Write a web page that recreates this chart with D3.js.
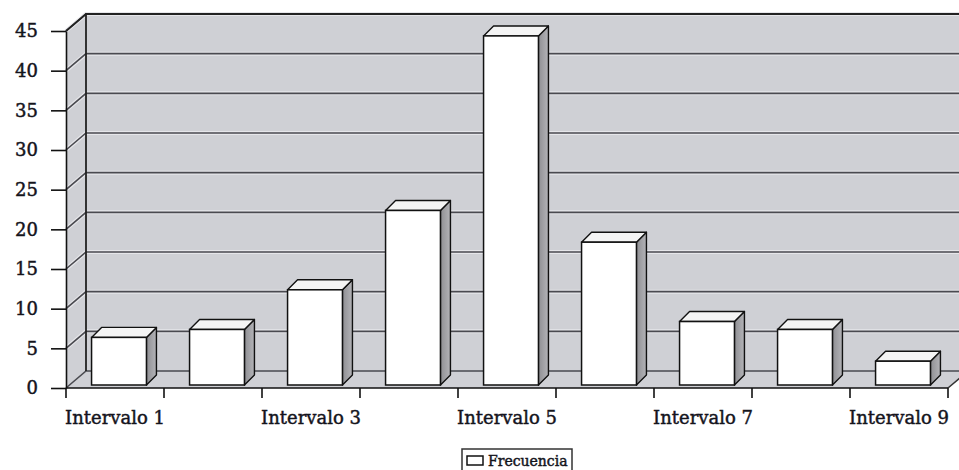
<!DOCTYPE html>
<html><head><meta charset="utf-8">
<script src="https://cdn.jsdelivr.net/npm/d3@7"></script>
<style>body{margin:0;background:#fff}svg{display:block}</style>
</head><body>
<script>
const categories = ["Intervalo 1","Intervalo 2","Intervalo 3","Intervalo 4","Intervalo 5","Intervalo 6","Intervalo 7","Intervalo 8","Intervalo 9"];
const frecuencia = [6, 7, 12, 22, 44, 18, 8, 7, 3];
const yTicks = [0,5,10,15,20,25,30,35,40,45];
const shownLabels = ["Intervalo 1","Intervalo 3","Intervalo 5","Intervalo 7","Intervalo 9"];
const seriesName = "Frecuencia";

const W = 959, H = 470;
const DX = 20, DY = -17;        // wall depth
const BX = 4, BY = -3;          // bar front offset
const BDX = 10, BDY = -10;      // bar depth
const FONT = "'DejaVu Serif', serif";

const svg = d3.select("body").append("svg").attr("width", W).attr("height", H);
svg.append("rect").attr("width", W).attr("height", H).attr("fill", "#fff");

const x = d3.scaleBand().domain(categories).range([66, 948]).paddingInner(0.44).paddingOuter(0.22);
const y = d3.scaleLinear().domain([0, 45]).range([388, 31]);
const x0 = x.range()[0], x1 = x.range()[1];
const y0 = y(0), yTop = y(45);
const wallFill = "#cfd0d5";

// walls
svg.append("polygon").attr("fill", wallFill)
  .attr("points", [[x0+DX, yTop+DY],[W+30, yTop+DY],[W+30, y0+DY],[x0+DX, y0+DY]].join(" "));
svg.append("polygon").attr("fill", wallFill)
  .attr("points", [[x0, yTop],[x0+DX, yTop+DY],[x0+DX, y0+DY],[x0, y0]].join(" "));
svg.append("polygon").attr("fill", wallFill)
  .attr("points", [[x0, y0],[x0+DX, y0+DY],[x1+DX, y0+DY],[x1, y0]].join(" "));

// gridlines
const grid = svg.append("g");
yTicks.filter(v => v > 0).forEach(v => {
  const yf = y(v), yb = y(v) + DY;
  grid.append("path").attr("d", `M${x0},${yf}L${x0+DX},${yb}L${W+5},${yb}`)
    .attr("fill","none").attr("stroke","#e6e6ea").attr("stroke-width",4);
  grid.append("path").attr("d", `M${x0},${yf}L${x0+DX},${yb}L${W+5},${yb}`)
    .attr("fill","none").attr("stroke","#4a4a50").attr("stroke-width",1.6);
});
grid.append("path").attr("d", `M${x0},${y0}L${x0+DX},${y0+DY}L${W+5},${y0+DY}`)
  .attr("fill","none").attr("stroke","#4a4a50").attr("stroke-width",1.6);
svg.append("path").attr("d", `M${x0+DX},${y0+DY}L${x0+DX},${yTop+DY}L${W+5},${yTop+DY}M${x0},${yTop}L${x0+DX},${yTop+DY}`)
  .attr("fill","none").attr("stroke","#222").attr("stroke-width",1.8);
svg.append("path").attr("d", `M${x1},${y0}L${x1+DX},${y0+DY}`)
  .attr("fill","none").attr("stroke","#333").attr("stroke-width",1.5);

// bars
const defs = svg.append("defs");
const grad = defs.append("linearGradient").attr("id","side").attr("x1",0).attr("x2",1).attr("y1",0).attr("y2",0);
grad.append("stop").attr("offset","0%").attr("stop-color","#8f8f93");
grad.append("stop").attr("offset","100%").attr("stop-color","#b4b4b8");

const bw = x.bandwidth();
const bars = svg.append("g").selectAll("g").data(categories.map((c,i)=>({c, v: frecuencia[i]}))).join("g");
bars.each(function(d){
  const g = d3.select(this);
  const bx = x(d.c) + BX, yb = y(0) + BY, yt = y(d.v) + BY;
  g.append("polygon").attr("fill","url(#side)").attr("stroke","#111").attr("stroke-width",1.4).attr("stroke-linejoin","round")
    .attr("points", [[bx+bw, yt],[bx+bw+BDX, yt+BDY],[bx+bw+BDX, yb+BDY],[bx+bw, yb]].join(" "));
  g.append("polygon").attr("fill","#f4f4f4").attr("stroke","#111").attr("stroke-width",1.4).attr("stroke-linejoin","round")
    .attr("points", [[bx, yt],[bx+BDX, yt+BDY],[bx+bw+BDX, yt+BDY],[bx+bw, yt]].join(" "));
  g.append("rect").attr("x",bx).attr("y",yt).attr("width",bw).attr("height",yb-yt)
    .attr("fill","#fff").attr("stroke","#111").attr("stroke-width",1.5);
});

function styleText(sel, size){
  sel.attr("font-family",FONT).attr("font-size",size).attr("fill","#14141c")
     .attr("stroke","#14141c").attr("stroke-width",0.45);
}

// y axis
const yAxis = svg.append("g").attr("transform",`translate(${x0},0)`)
  .call(d3.axisLeft(y).tickValues(yTicks).tickSize(15).tickPadding(13).tickSizeOuter(0));
yAxis.select(".domain").attr("stroke","#111").attr("stroke-width",1.6);
yAxis.selectAll(".tick line").attr("stroke","#111").attr("stroke-width",1.6);
styleText(yAxis.selectAll("text"), 18);

// x axis
svg.append("line").attr("x1",x0).attr("x2",x1).attr("y1",y0).attr("y2",y0).attr("stroke","#111").attr("stroke-width",1.6);
const step = x.step();
d3.range(categories.length + 1).forEach(i => {
  const tx = x0 + i * step;
  svg.append("line").attr("x1",tx).attr("x2",tx).attr("y1",y0).attr("y2",y0+10).attr("stroke","#111").attr("stroke-width",1.6);
});
const xAxis = svg.append("g").attr("transform",`translate(0,${y0})`)
  .call(d3.axisBottom(x).tickValues(shownLabels).tickSize(0).tickPadding(23));
xAxis.select(".domain").remove();
styleText(xAxis.selectAll("text"), 18);

// legend
const lg = svg.append("g");
lg.append("rect").attr("x",462).attr("y",449).attr("width",110).attr("height",30).attr("fill","#fff").attr("stroke","#333").attr("stroke-width",1.5);
lg.append("rect").attr("x",467).attr("y",456).attr("width",16).attr("height",9).attr("fill","#fff").attr("stroke","#111").attr("stroke-width",1.5);
styleText(lg.append("text").attr("x",488).attr("y",466).text(seriesName), 14);
</script>
</body></html>
